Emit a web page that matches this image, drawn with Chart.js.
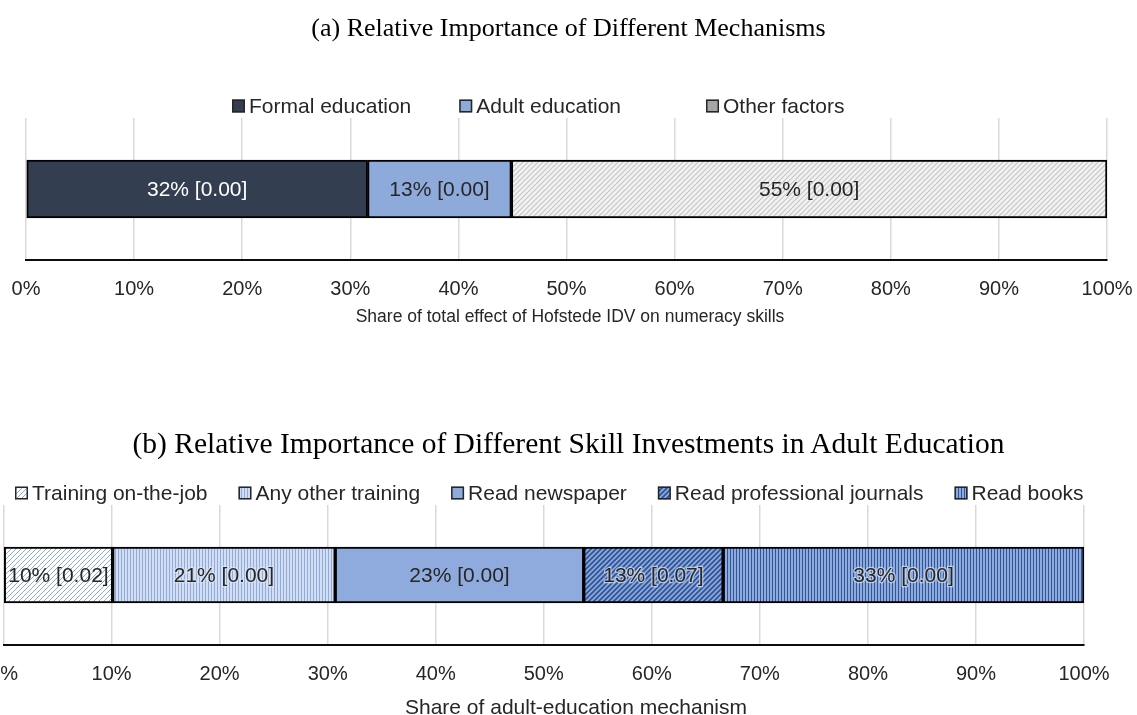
<!DOCTYPE html>
<html>
<head>
<meta charset="utf-8">
<script src="https://cdn.jsdelivr.net/npm/chart.js@4.4.1/dist/chart.umd.min.js"></script>
<style>
  html, body { margin: 0; padding: 0; background: #fff; overflow: hidden; }
  body { width: 1137px; height: 715px; position: relative; }
  .panel { position: absolute; }
  #wrapA { left: 0; top: 0; width: 1137px; height: 345px; }
  #wrapB { left: -20px; top: 400px; width: 1157px; height: 325px; }
  .ttl, .axt {
    position: absolute; text-align: center; white-space: nowrap;
  }
  .ttl { left: 0; width: 1137px; font-family: "Liberation Serif", "Times New Roman", serif; color: #000; }
  .axt { font-family: "Liberation Sans", Arial, sans-serif; color: #262626; width: 800px; }
  #titleA { top: 13px; font-size: 26px; line-height: 30px; }
  #titleB { top: 426px; font-size: 29.5px; line-height: 34px; }
  #axisA { left: 170px; top: 305px; font-size: 17.5px; line-height: 22px; }
  #axisB { left: 176px; top: 695px; font-size: 21px; line-height: 24px; }
</style>
</head>
<body>
<div class="panel" id="wrapA"><canvas id="chartA"></canvas></div>
<div class="panel" id="wrapB"><canvas id="chartB"></canvas></div>
<div class="ttl" id="titleA">(a) Relative Importance of Different Mechanisms</div>
<div class="axt" id="axisA">Share of total effect of Hofstede IDV on numeracy skills</div>
<div class="ttl" id="titleB">(b) Relative Importance of Different Skill Investments in Adult Education</div>
<div class="axt" id="axisB">Share of adult-education mechanism</div>
<script>
// Panel (a) data
const mechLabels = ['Formal education', 'Adult education', 'Other factors'];
const mechShares = [31.6, 13.3, 55.1];
const mechText = ['32% [0.00]', '13% [0.00]', '55% [0.00]'];

// Panel (b) data
const investLabels = ['Training on-the-job', 'Any other training', 'Read newspaper', 'Read professional journals', 'Read books'];
const investShares = [10.1, 20.6, 23.0, 12.9, 33.4];
const investText = ['10% [0.02]', '21% [0.00]', '23% [0.00]', '13% [0.07]', '33% [0.00]'];

// shared axis ticks
const tickLabels = ['0%', '10%', '20%', '30%', '40%', '50%', '60%', '70%', '80%', '90%', '100%'];

const SANS = '"Liberation Sans", Arial, sans-serif';

// small tiles used as fills
function makePattern(w, h, draw) {
    const c = document.createElement('canvas');
    c.width = w;
    c.height = h;
    const g = c.getContext('2d');
    draw(g, w, h);
    return g.createPattern(c, 'repeat');
}

function diagonal(bg, line, lw, s) {
    return makePattern(s, s, (g) => {
        g.fillStyle = bg;
        g.fillRect(0, 0, s, s);
        g.strokeStyle = line;
        g.lineWidth = lw;
        g.beginPath();
        g.moveTo(0, s); g.lineTo(s, 0);
        g.moveTo(-1, 1); g.lineTo(1, -1);
        g.moveTo(s - 1, s + 1); g.lineTo(s + 1, s - 1);
        g.stroke();
    });
}

function vertical(bg, line, period) {
    return makePattern(period, 1, (g) => {
        g.fillStyle = bg;
        g.fillRect(0, 0, period, 1);
        g.fillStyle = line;
        g.fillRect(0, 0, 1, 1);
    });
}

const otherFill = diagonal('#f2f2f2', '#c6c6c6', 1.2, 5);
const trainFill = diagonal('#ffffff', '#8eaadb', 1, 5);
const anyFill = vertical('#d3def2', '#8faadc', 3);
const newsFill = '#8faadc';
const journalFill = diagonal('#8faadc', '#2f5597', 1.8, 5);
const booksFill = vertical('#8faadc', '#2f5597', 3);

// text inside each bar segment
const barText = {
    id: 'barText',
    afterDatasetsDraw(chart, args, opts) {
        const ctx = chart.ctx;
        ctx.save();
        ctx.font = '21px ' + SANS;
        ctx.textAlign = 'center';
        ctx.textBaseline = 'middle';
        chart.data.datasets.forEach((ds, i) => {
            const el = chart.getDatasetMeta(i).data[0];
            if (!el) return;
            const cx = (el.x + el.base) / 2;
            const txt = opts.texts[i];
            if (opts.halo && opts.halo[i]) {
                ctx.lineWidth = 2.5;
                ctx.strokeStyle = 'rgba(220,229,245,0.7)';
                ctx.lineJoin = 'round';
                ctx.strokeText(txt, cx, el.y + 1);
            }
            ctx.fillStyle = opts.colors[i];
            ctx.fillText(txt, cx, el.y + 1);
        });
        ctx.restore();
    }
};

// Excel-style legend row: small framed box then label
const boxLegend = {
    id: 'boxLegend',
    afterDraw(chart, args, opts) {
        const ctx = chart.ctx;
        const box = 13, textGap = 4;
        ctx.save();
        ctx.font = '21px ' + SANS;
        ctx.textBaseline = 'middle';
        let x = opts.x0;
        chart.data.datasets.forEach((ds, i) => {
            const w = ctx.measureText(ds.label).width;
            ctx.fillStyle = ds.legendFill || ds.backgroundColor;
            ctx.fillRect(x, opts.cy - box / 2, box, box);
            ctx.lineWidth = 1.5;
            ctx.strokeStyle = '#262626';
            ctx.strokeRect(x + 0.75, opts.cy - box / 2 + 0.75, box - 1.5, box - 1.5);
            ctx.fillStyle = '#262626';
            ctx.fillText(ds.label, x + box + textGap, opts.cy + 1);
            x += box + textGap + w + (opts.gaps[i] || 0);
        });
        ctx.restore();
    }
};

function xScale(axisHeight) {
    return {
        type: 'linear',
        stacked: true,
        min: 0,
        max: 100,
        afterFit: (s) => { s.height = axisHeight; },
        ticks: {
            stepSize: 10,
            padding: 2,
            maxRotation: 0,
            color: '#262626',
            font: { family: SANS, size: 20, lineHeight: 2.7 },
            callback: (v, i) => tickLabels[i]
        },
        grid: { color: '#d9d9d9', lineWidth: 1.5, drawTicks: false },
        border: { color: '#0d0d0d', width: 2 }
    };
}

function yScale() {
    return { type: 'category', stacked: true, display: false };
}

function buildSets(labels, values, fills, thickness) {
    return labels.map((lab, i) => ({
        label: lab,
        data: [values[i]],
        backgroundColor: fills[i],
        borderColor: '#000',
        borderWidth: 2,
        borderSkipped: false,
        barThickness: thickness
    }));
}

const setsA = buildSets(mechLabels, mechShares, ['#333f50', '#8eaadb', otherFill], 58);
setsA[2].legendFill = '#a6a6a6';

new Chart(document.getElementById('chartA'), {
    type: 'bar',
    data: { labels: [''], datasets: setsA },
    plugins: [barText, boxLegend],
    options: {
        indexAxis: 'y',
        responsive: true,
        maintainAspectRatio: false,
        animation: false,
        layout: { padding: { left: 26, right: 30, top: 118, bottom: 0 } },
        scales: { x: xScale(85), y: yScale() },
        plugins: {
            legend: { display: false },
            tooltip: { enabled: false },
            barText: { texts: mechText, colors: ['#ffffff', '#262626', '#262626'] },
            boxLegend: { x0: 232, cy: 106, gaps: [48, 85] }
        }
    }
});

new Chart(document.getElementById('chartB'), {
    type: 'bar',
    data: {
        labels: [''],
        datasets: buildSets(investLabels, investShares, [trainFill, anyFill, newsFill, journalFill, booksFill], 56)
    },
    plugins: [barText, boxLegend],
    options: {
        indexAxis: 'y',
        responsive: true,
        maintainAspectRatio: false,
        animation: false,
        layout: { padding: { left: 23.5, right: 53, top: 105, bottom: 0 } },
        scales: { x: xScale(80), y: yScale() },
        plugins: {
            legend: { display: false },
            tooltip: { enabled: false },
            barText: {
                texts: investText,
                colors: ['#262626', '#262626', '#262626', '#262626', '#262626'],
                halo: [false, true, false, true, true]
            },
            boxLegend: { x0: 35, cy: 93, gaps: [31, 31, 31, 31] }
        }
    }
});
</script>
</body>
</html>
